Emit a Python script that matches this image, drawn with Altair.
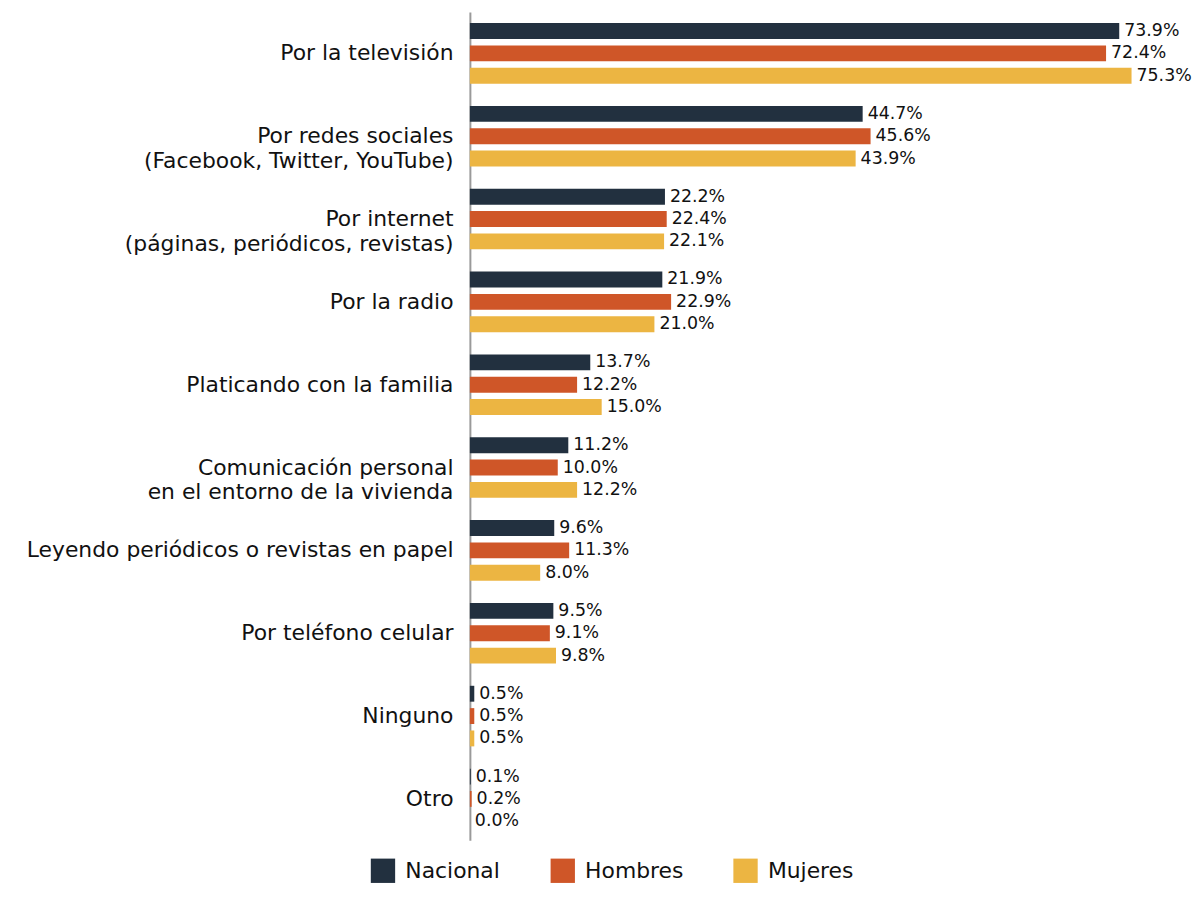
import altair as alt
import pandas as pd

categories = [
    "Por la televisión",
    "Por redes sociales|(Facebook, Twitter, YouTube)",
    "Por internet|(páginas, periódicos, revistas)",
    "Por la radio",
    "Platicando con la familia",
    "Comunicación personal|en el entorno de la vivienda",
    "Leyendo periódicos o revistas en papel",
    "Por teléfono celular",
    "Ninguno",
    "Otro",
]
series = ["Nacional", "Hombres", "Mujeres"]
nacional = [73.9, 44.7, 22.2, 21.9, 13.7, 11.2, 9.6, 9.5, 0.5, 0.1]
hombres = [72.4, 45.6, 22.4, 22.9, 12.2, 10.0, 11.3, 9.1, 0.5, 0.2]
mujeres = [75.3, 43.9, 22.1, 21.0, 15.0, 12.2, 8.0, 9.8, 0.5, 0.0]
colors = ["#22303f", "#cf5628", "#ecb542"]

rows = []
for s, vals in zip(series, [nacional, hombres, mujeres]):
    for c, v in zip(categories, vals):
        rows.append({"cat": c, "serie": s, "valor": v, "etq": f"{v:.1f}%"})
df = pd.DataFrame(rows)

FONT = "DejaVu Sans"

y_enc = alt.Y(
    "cat:N",
    sort=categories,
    scale=alt.Scale(paddingInner=0, paddingOuter=0),
    axis=alt.Axis(
        title=None,
        ticks=False,
        labelExpr="split(datum.label, '|')",
        labelFont=FONT,
        labelFontSize=22,
        labelColor="#111111",
        labelLineHeight=25,
        labelPadding=17,
        labelLimit=500,
        domainColor="#9a9a9a",
        domainWidth=2,
        grid=False,
    ),
)
yoff = alt.YOffset(
    "serie:N",
    sort=series,
    scale=alt.Scale(paddingInner=0.289, paddingOuter=0.498),
)
x_enc = alt.X("valor:Q", scale=alt.Scale(domain=[0, 78], nice=False, zero=True), axis=None)

base = alt.Chart(df)

bars = base.mark_bar().encode(
    y=y_enc,
    yOffset=yoff,
    x=x_enc,
    color=alt.Color(
        "serie:N",
        sort=series,
        scale=alt.Scale(domain=series, range=colors),
        legend=alt.Legend(
            title=None,
            orient="none",
            direction="horizontal",
            legendX=-100,
            legendY=852,
            symbolType="square",
            symbolSize=600,
            symbolStrokeWidth=0,
            symbolOpacity=1,
            labelFont=FONT,
            labelFontSize=22,
            labelColor="#111111",
            labelOffset=10,
            columnPadding=50,
        ),
    ),
)

text = base.mark_text(
    align="left", baseline="middle", dx=5, font=FONT, fontSize=17.5, color="#111111"
).encode(
    y=alt.Y("cat:N", sort=categories),
    yOffset=alt.YOffset("serie:N", sort=series),
    x=alt.X("valor:Q"),
    text="etq:N",
)

chart = (
    alt.layer(bars, text)
    .properties(
        width=690,
        height=834,
        autosize=alt.AutoSizeParams(type="none"),
        padding={"left": 465, "top": 1, "right": 40, "bottom": 42},
    )
    .configure_view(stroke=None)
)

chart.save("out.html", embed_options={"renderer": "svg", "actions": False})
